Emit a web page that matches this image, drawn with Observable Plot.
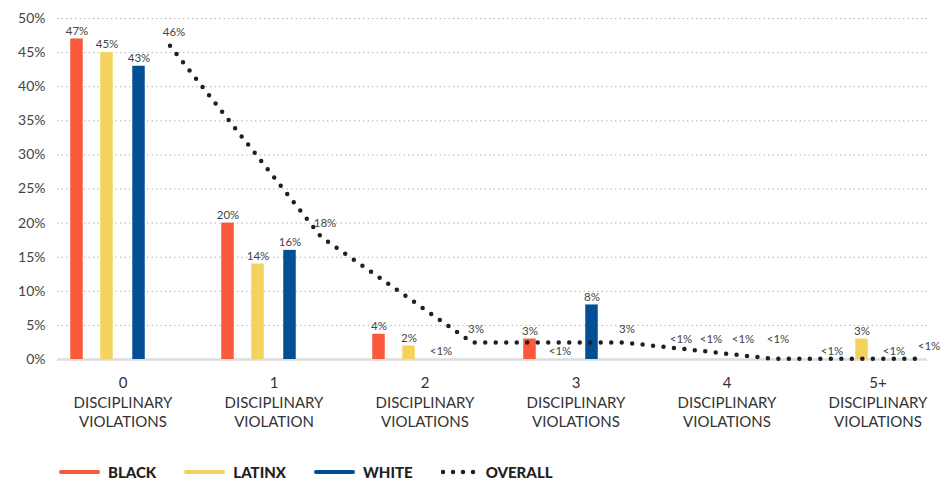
<!DOCTYPE html>
<html>
<head>
<meta charset="utf-8">
<script src="https://cdn.jsdelivr.net/npm/d3@7"></script>
<script src="https://cdn.jsdelivr.net/npm/@observablehq/plot@0.6"></script>
<style>
  body { margin: 0; background: #fff; font-family: Lato, "Open Sans", sans-serif; }
  #chart { width: 947px; height: 440px; }
  #legend { display: flex; align-items: center; height: 24px; margin-top: 20px; padding-left: 59px;
            font-family: Lato, sans-serif; font-weight: 900; font-size: 15px; color: #231f20; }
  .sw { width: 41px; height: 4px; border-radius: 2px; margin-right: 8px; }
  .item { display: flex; align-items: center; margin-right: 28px; }
</style>
</head>
<body>
<div id="chart"></div>
<div id="legend"></div>
<script>
// ---- data ----
const groups = ["0", "1", "2", "3", "4", "5+"];
const groupLabels = ["0\nDISCIPLINARY\nVIOLATIONS", "1\nDISCIPLINARY\nVIOLATION", "2\nDISCIPLINARY\nVIOLATIONS",
                     "3\nDISCIPLINARY\nVIOLATIONS", "4\nDISCIPLINARY\nVIOLATIONS", "5+\nDISCIPLINARY\nVIOLATIONS"];
const seriesNames = ["BLACK", "LATINX", "WHITE", "OVERALL"];
const black   = [47, 20, 3.7, 3, 0, 0];
const latinx  = [45, 14, 2, 0, 0, 3];
const white   = [43, 16, 0, 8, 0, 0];
const overall = [46, 18, 2.5, 2.5, 0.1, 0.1];
const yTicks = [0, 5, 10, 15, 20, 25, 30, 35, 40, 45, 50];

// ---- styling ----
const colors = {BLACK: "#fa5a3b", LATINX: "#f3d35e", WHITE: "#034f96", OVERALL: "#231f20"};
const offsets = {BLACK: -46, LATINX: -16, WHITE: 16, OVERALL: 47};
const step = 151, barW = 12.5, inset = (step - barW) / 2;
const fmt = v => v < 1 ? "<1%" : Math.round(v) + "%";

const valuesBy = {BLACK: black, LATINX: latinx, WHITE: white, OVERALL: overall};
const rows = s => groups.map((g, i) => ({group: g, value: valuesBy[s][i], series: s}));

const marks = [
  Plot.gridY(yTicks.filter(d => d > 0), {stroke: "#b5b5b5", strokeOpacity: 1, strokeDasharray: "1.5 3"}),
  Plot.ruleY([0], {stroke: "#dcdcdc", strokeWidth: 2.5}),
  Plot.axisY(yTicks, {tickSize: 0, tickPadding: 12, tickFormat: d => d + "%", fontSize: 14, fill: "#444", label: null}),
  Plot.axisX(groups, {tickSize: 0, tickPadding: 15, fontSize: 15, fill: "#333", lineHeight: 1.3, label: null,
    tickFormat: g => groupLabels[groups.indexOf(g)]})
];
for (const s of ["BLACK", "LATINX", "WHITE"]) {
  marks.push(Plot.barY(rows(s), {x: "group", y: "value", fill: colors[s], dx: offsets[s],
    insetLeft: inset, insetRight: inset}));
}
marks.push(Plot.line(rows("OVERALL"), {x: "group", y: "value", dx: offsets.OVERALL, stroke: colors.OVERALL,
  strokeWidth: 4.5, strokeDasharray: "0 10.5", strokeLinecap: "round"}));
for (const s of seriesNames) {
  const extra = s === "OVERALL" ? 4 : 0;
  const d = rows(s);
  marks.push(Plot.text(d.filter(r => r.group !== "4"), {x: "group", y: "value", text: r => fmt(r.value),
    dx: offsets[s] + extra, dy: s === "OVERALL" ? -13 : -8, fontSize: 11.5, fill: "#444"}));
  marks.push(Plot.text(d.filter(r => r.group === "4"), {x: "group", y: "value", text: r => fmt(r.value),
    dx: offsets[s] + extra, dy: -20, fontSize: 11.5, fill: "#444"}));
}

const chart = Plot.plot({
  width: 947, height: 440,
  marginLeft: 57, marginRight: 20, marginTop: 18, marginBottom: 81,
  style: {fontFamily: "Lato, 'Open Sans', sans-serif", background: "#fff"},
  x: {domain: groups, range: [47, 47 + step * groups.length], padding: 0, axis: null, label: null},
  y: {domain: [0, 50], axis: null, label: null},
  marks
});
document.getElementById("chart").append(chart);

// ---- legend ----
const legend = document.getElementById("legend");
for (const s of seriesNames) {
  const item = document.createElement("div");
  item.className = "item";
  if (s === "OVERALL") {
    item.innerHTML = `<svg width="44" height="8" style="margin-right:1px"><line x1="2" x2="42" y1="4" y2="4" stroke="${colors[s]}" stroke-width="4.5" stroke-linecap="round" stroke-dasharray="0 10"/></svg><span>${s}</span>`;
  } else {
    item.innerHTML = `<div class="sw" style="background:${colors[s]}"></div><span>${s}</span>`;
  }
  legend.append(item);
}
</script>
</body>
</html>
